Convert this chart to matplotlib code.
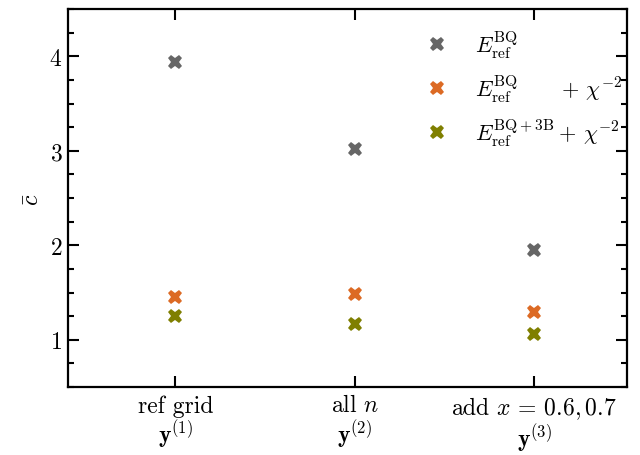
import numpy as np
import matplotlib
matplotlib.use('Agg')
import matplotlib.pyplot as plt
from matplotlib.ticker import MultipleLocator

plt.rcParams['font.family'] = 'serif'
plt.rcParams['font.serif'] = ['cmr10']
plt.rcParams['mathtext.fontset'] = 'cm'
plt.rcParams['axes.formatter.use_mathtext'] = True

categories = ['ref grid\n$\\mathbf{y}^{(1)}$',
              'all $n$\n$\\mathbf{y}^{(2)}$',
              'add $x\\,=\\,0.6,0.7$\n$\\mathbf{y}^{(3)}$']
c_bq = [3.94, 3.02, 1.95]
c_bq_chi = [1.45, 1.48, 1.29]
c_bq3b_chi = [1.25, 1.165, 1.065]

labels = ['$E_\\mathrm{ref}^\\mathrm{BQ}$',
          '$E_\\mathrm{ref}^\\mathrm{BQ}\\hspace{2.0}+\\,\\chi^{-2}$',
          '$E_\\mathrm{ref}^\\mathrm{BQ+3B}+\\,\\chi^{-2}$']
colors = ['#666666', '#dc6a24', '#7f7f00']

fig = plt.figure(figsize=(6.4, 4.56), dpi=100)
ax = fig.add_axes([0.106, 0.149, 0.874, 0.829])

x = np.arange(len(categories))
for vals, lab, col in zip([c_bq, c_bq_chi, c_bq3b_chi], labels, colors):
    ax.plot(x, vals, 'X', color=col, ms=10.5, mew=0, label=lab, linestyle='none')

ax.set_xlim(-0.6, 2.52)
ax.set_ylim(0.5, 4.5)
ax.set_xticks(x)
ax.set_xticklabels(categories, fontsize=17, linespacing=1.05)
ax.yaxis.set_major_locator(MultipleLocator(1))
ax.yaxis.set_minor_locator(MultipleLocator(0.25))
ax.tick_params(axis='y', labelsize=17, pad=4)
ax.tick_params(which='both', direction='in', top=True, right=True, width=1.5)
ax.tick_params(which='major', length=8)
ax.tick_params(which='minor', length=4)
ax.tick_params(axis='x', pad=5)
for s in ax.spines.values():
    s.set_linewidth(1.6)
ax.set_ylabel('$\\bar{c}$', fontsize=17, labelpad=4)

ax.legend(loc='upper right', frameon=False, fontsize=16, handletextpad=0.7,
          labelspacing=0.54, borderaxespad=0.2, bbox_to_anchor=(1.015, 0.983))

fig.savefig('out.png', dpi=100)
